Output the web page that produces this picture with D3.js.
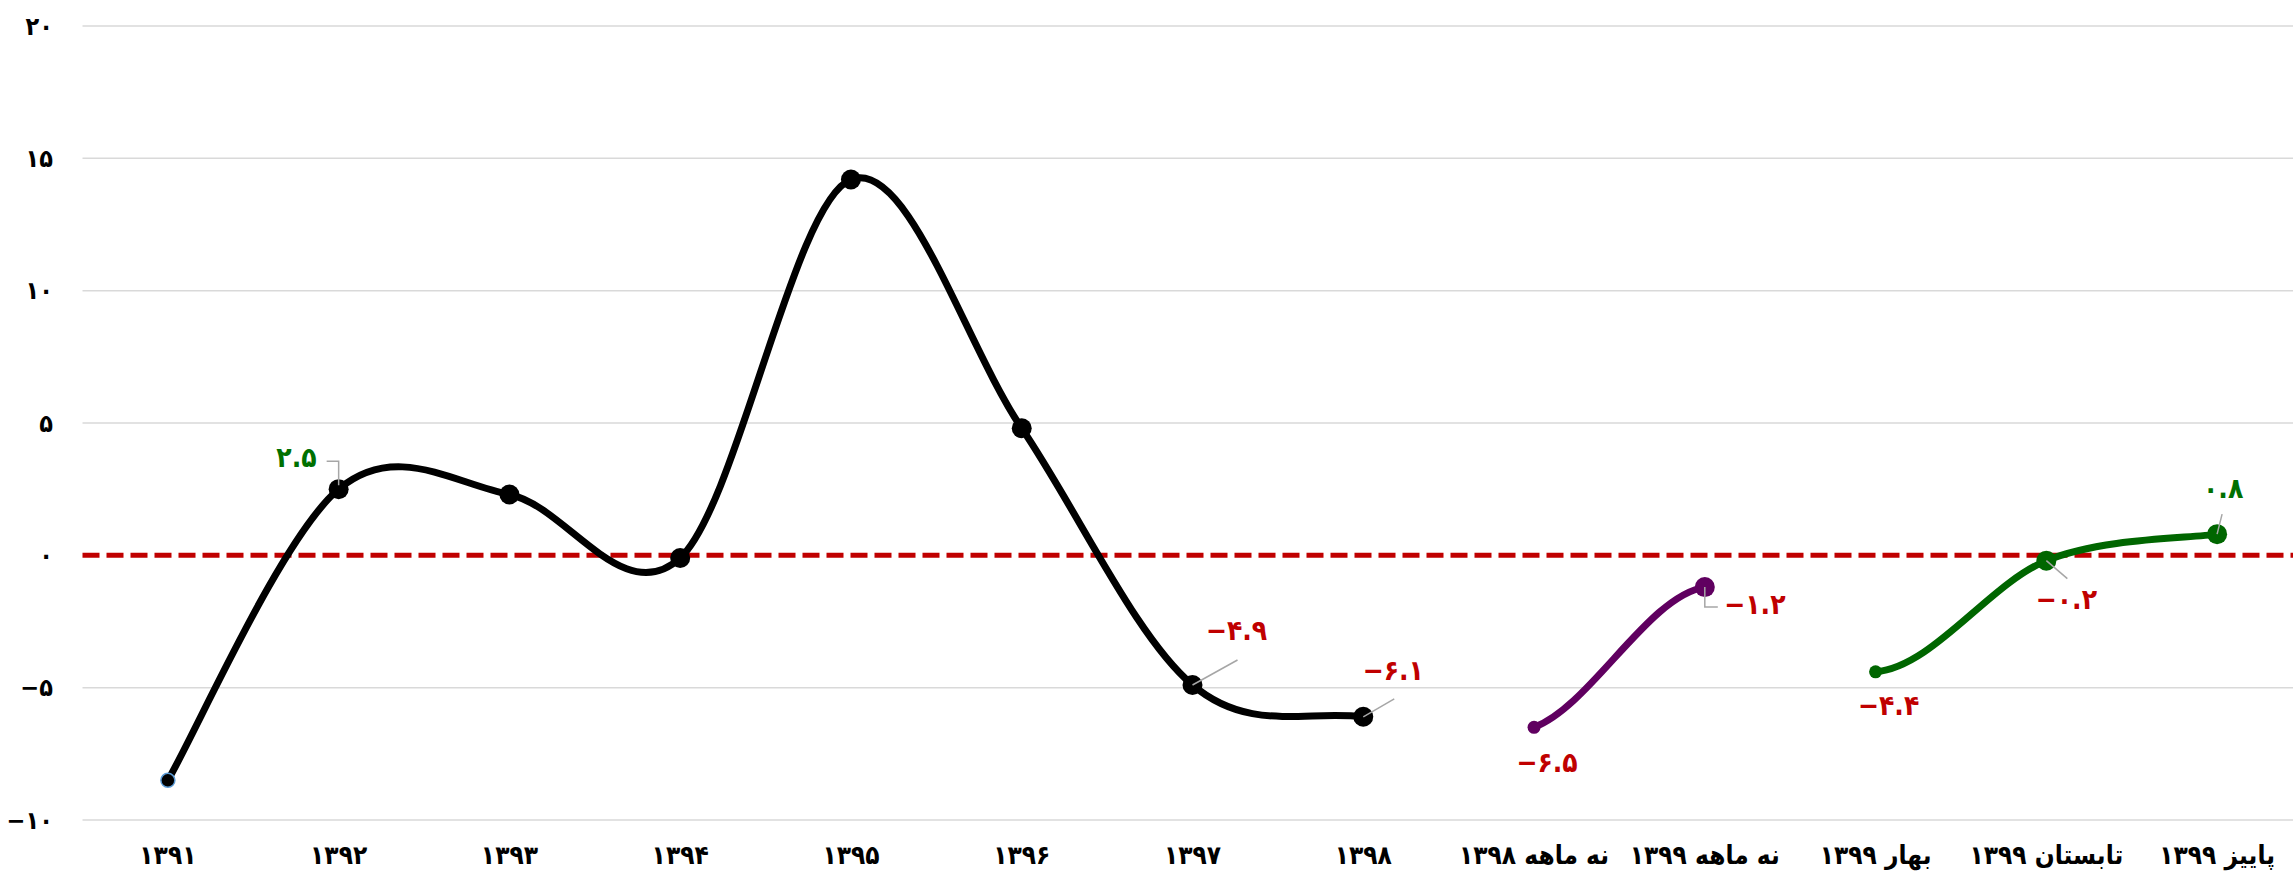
<!DOCTYPE html>
<html>
<head>
<meta charset="utf-8">
<script src="https://cdn.jsdelivr.net/npm/d3@7"></script>
<style>
  body { margin: 0; background: #fff; }
  svg { display: block; }
  text { font-family: "DejaVu Sans Condensed", "DejaVu Sans", sans-serif; font-weight: bold; }
</style>
</head>
<body>
<div id="chart"></div>
<script>
// chart values
var annualCats = ["۱۳۹۱", "۱۳۹۲", "۱۳۹۳", "۱۳۹۴", "۱۳۹۵", "۱۳۹۶", "۱۳۹۷", "۱۳۹۸"];
var annualValues = [-8.5, 2.5, 2.3, -0.1, 14.2, 4.8, -4.9, -6.1];
var nineMonthCats = ["نه ماهه ۱۳۹۸", "نه ماهه ۱۳۹۹"];
var nineMonthValues = [-6.5, -1.2];
var seasonCats = ["بهار ۱۳۹۹", "تابستان ۱۳۹۹", "پاییز ۱۳۹۹"];
var seasonValues = [-4.4, -0.2, 0.8];
var yTickValues = [-10, -5, 0, 5, 10, 15, 20];

var categories = annualCats.concat(nineMonthCats, seasonCats);

var chartWidth = 2293;
var chartHeight = 878;

// Persian digits
function fa(v, dec) {
  var s = dec ? v.toFixed(dec) : String(v);
  return s.replace(/\d/g, function (d) { return "۰۱۲۳۴۵۶۷۸۹"[+d]; }).replace("-", "−");
}

var svg = d3.select("#chart")
  .append("svg")
  .attr("width", chartWidth)
  .attr("height", chartHeight);

var x = d3.scaleBand().domain(categories).range([82.5, 2302.5]);
var y = d3.scaleLinear().domain([-10, 20]).range([820, 26]);
function cx(c) { return x(c) + x.bandwidth() / 2; }

// gridlines
svg.append("g")
  .selectAll("line")
  .data(yTickValues.filter(function (d) { return d !== 0; }))
  .enter()
  .append("line")
  .attr("x1", 82.5)
  .attr("x2", chartWidth)
  .attr("y1", function (d) { return y(d); })
  .attr("y2", function (d) { return y(d); })
  .style("stroke", "#d9d9d9")
  .style("stroke-width", 1.5);

// y tick labels
svg.append("g")
  .selectAll("text")
  .data(yTickValues)
  .enter()
  .append("text")
  .attr("x", 53)
  .attr("y", function (d) { return y(d); })
  .attr("dy", "0.35em")
  .attr("text-anchor", "end")
  .style("font-size", "25px")
  .text(function (d) { return fa(d); });

// x labels
svg.append("g")
  .selectAll("text")
  .data(categories)
  .enter()
  .append("text")
  .attr("x", function (d) { return cx(d); })
  .attr("y", 855)
  .attr("dy", "0.35em")
  .attr("text-anchor", "middle")
  .style("font-size", "26px")
  .text(function (d) { return d; });

// zero reference line
svg.append("line")
  .attr("x1", 82.5)
  .attr("x2", chartWidth)
  .attr("y1", y(0))
  .attr("y2", y(0))
  .style("stroke", "#c00000")
  .style("stroke-width", 5)
  .style("stroke-dasharray", "17,7");

function toPoints(cats, values, color) {
  return cats.map(function (c, i) { return { cat: c, value: values[i], color: color, first: i === 0 }; });
}

var seriesList = [
  { points: toPoints(annualCats, annualValues, "#000000"), color: "#000000" },
  { points: toPoints(nineMonthCats, nineMonthValues, "#600060"), color: "#600060" },
  { points: toPoints(seasonCats, seasonValues, "#006600"), color: "#006600" }
];

// the smoothing runs through all points as one sequence, only the segments inside a series are drawn
var allPoints = [];
seriesList.forEach(function (s) { allPoints = allPoints.concat(s.points); });
var xy = allPoints.map(function (d) { return [cx(d.cat), y(d.value)]; });

var segments = [];
for (var i = 0; i < xy.length - 1; i++) {
  if (allPoints[i + 1].first) continue;
  var p0 = xy[Math.max(i - 1, 0)], p1 = xy[i], p2 = xy[i + 1], p3 = xy[Math.min(i + 2, xy.length - 1)];
  var path = d3.path();
  path.moveTo(p1[0], p1[1]);
  path.bezierCurveTo(
    p1[0] + (p2[0] - p0[0]) / 6, p1[1] + (p2[1] - p0[1]) / 6,
    p2[0] - (p3[0] - p1[0]) / 6, p2[1] - (p3[1] - p1[1]) / 6,
    p2[0], p2[1]);
  segments.push({ d: path.toString(), color: allPoints[i].color });
}

svg.append("g")
  .selectAll("path")
  .data(segments)
  .enter()
  .append("path")
  .attr("d", function (d) { return d.d; })
  .style("fill", "none")
  .style("stroke", function (d) { return d.color; })
  .style("stroke-width", 7)
  .style("stroke-linecap", "round");

seriesList.forEach(function (s, si) {
  svg.append("g")
    .selectAll("circle")
    .data(s.points)
    .enter()
    .append("circle")
    .attr("cx", function (d) { return cx(d.cat); })
    .attr("cy", function (d) { return y(d.value); })
    .attr("r", function (d, i) { return i === 0 ? (si === 0 ? 7 : 6.5) : 10; })
    .style("fill", s.color)
    .style("stroke", function (d, i) { return si === 0 && i === 0 ? "#5b9bd5" : "none"; })
    .style("stroke-width", 1.5);
});

// data labels: placement offsets relative to the point, plus leader lines
var labelLayout = [
  { cat: "۱۳۹۲", dx: -22, dy: -32, anchor: "end", leader: [[-12, -28], [0, -28], [0, -4]] },
  { cat: "۱۳۹۷", dx: 44, dy: -55, anchor: "middle", leader: [[45, -25], [0, 0]] },
  { cat: "۱۳۹۸", dx: 30, dy: -47, anchor: "middle", leader: [[31, -18], [0, 0]] },
  { cat: "نه ماهه ۱۳۹۸", dx: 13, dy: 35, anchor: "middle", leader: null },
  { cat: "نه ماهه ۱۳۹۹", dx: 50, dy: 17, anchor: "middle", leader: [[0, 0], [0, 20], [13, 20]] },
  { cat: "بهار ۱۳۹۹", dx: 13, dy: 33, anchor: "middle", leader: null },
  { cat: "تابستان ۱۳۹۹", dx: 20, dy: 39, anchor: "middle", leader: [[0, 0], [21, 18]] },
  { cat: "پاییز ۱۳۹۹", dx: 6, dy: -46, anchor: "middle", leader: [[0, 0], [5, -20]] }
];

var valueByCat = {};
allPoints.forEach(function (p) { valueByCat[p.cat] = p.value; });

var labelGroup = svg.append("g");
labelLayout.forEach(function (l) {
  var v = valueByCat[l.cat];
  var px = cx(l.cat), py = y(v);
  if (l.leader) {
    labelGroup.append("path")
      .attr("d", d3.line()(l.leader.map(function (p) { return [px + p[0], py + p[1]]; })))
      .style("fill", "none")
      .style("stroke", "#a6a6a6")
      .style("stroke-width", 1.5);
  }
  labelGroup.append("text")
    .attr("x", px + l.dx)
    .attr("y", py + l.dy)
    .attr("dy", "0.35em")
    .attr("text-anchor", l.anchor)
    .style("font-size", "28px")
    .style("fill", v < 0 ? "#c00000" : "#007000")
    .text(fa(v, 1));
});
</script>
</body>
</html>
